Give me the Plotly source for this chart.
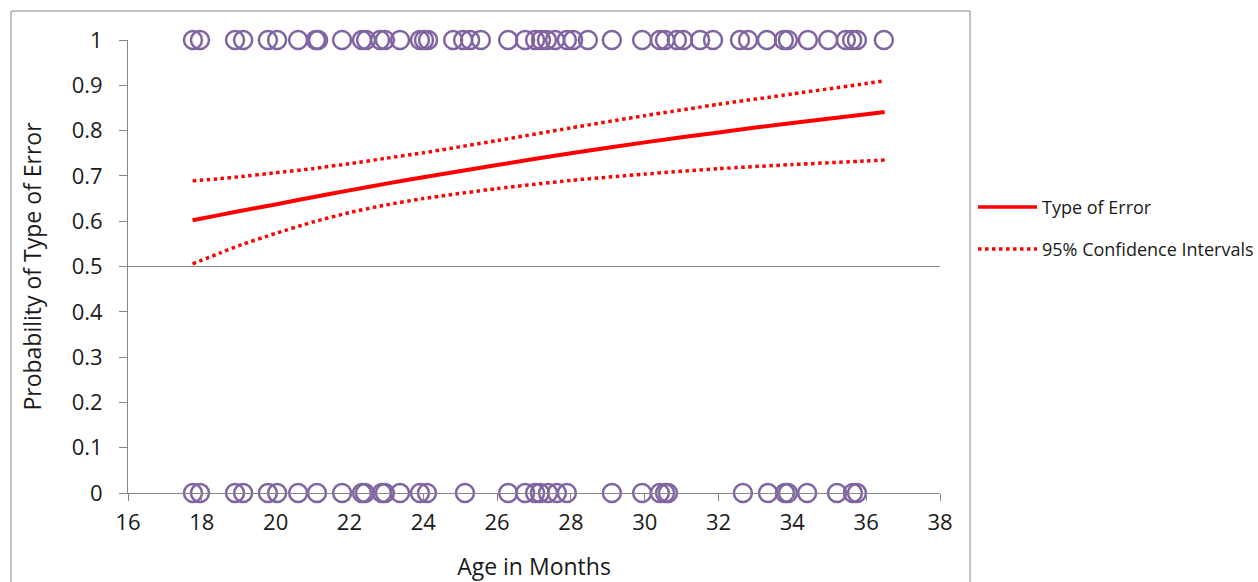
import plotly.graph_objects as go

# Observed outcomes: age (months) of each child by error type (1 / 0)
age_error_1 = [17.76, 17.95, 18.90, 19.12, 19.79, 20.04, 20.61, 21.09, 21.15, 21.80,
               22.34, 22.45, 22.83, 22.96, 23.37, 23.91, 24.02, 24.13, 24.81, 25.08,
               25.27, 25.56, 26.30, 26.76, 27.03, 27.19, 27.35, 27.57, 27.89, 28.06,
               28.46, 29.11, 29.93, 30.41, 30.55, 30.87, 31.04, 31.50, 31.85, 32.58,
               32.80, 33.31, 33.77, 33.88, 34.42, 34.97, 35.45, 35.62, 35.75, 36.48]
age_error_0 = [17.76, 17.95, 18.90, 19.12, 19.79, 20.04, 20.61, 21.12, 21.80, 22.34,
               22.42, 22.88, 22.96, 23.37, 23.91, 24.10, 25.13, 26.30, 26.76, 27.03,
               27.16, 27.38, 27.62, 27.89, 29.11, 29.93, 30.41, 30.55, 30.63, 32.66,
               33.34, 33.80, 33.88, 34.40, 35.21, 35.64, 35.75]

# Fitted probability curve with its 95% confidence band
curve_age = [17.75, 18.5, 19, 20, 21, 22, 23, 24, 26, 28, 30, 32, 34, 36, 36.5]
curve_prob = [0.602, 0.614, 0.622, 0.637, 0.653, 0.668, 0.683, 0.697, 0.724, 0.750,
              0.774, 0.796, 0.817, 0.836, 0.841]
ci_upper = [0.689, 0.694, 0.698, 0.707, 0.716, 0.727, 0.739, 0.751, 0.778, 0.806,
            0.833, 0.858, 0.881, 0.904, 0.910]
ci_lower = [0.506, 0.530, 0.546, 0.573, 0.598, 0.619, 0.636, 0.650, 0.672, 0.690,
            0.704, 0.716, 0.725, 0.733, 0.735]

x_ticks = [16, 18, 20, 22, 24, 26, 28, 30, 32, 34, 36, 38]
y_ticks = [0, 0.1, 0.2, 0.3, 0.4, 0.5, 0.6, 0.7, 0.8, 0.9, 1]
y_tick_text = ["0", "0.1", "0.2", "0.3", "0.4", "0.5", "0.6", "0.7", "0.8", "0.9", "1"]

FONT = "Open Sans"
PURPLE = "#8064A2"
RED = "#FF0000"
AXIS_GRAY = "#868686"
TEXT = "#1a1a1a"

fig = go.Figure()

marker_style = dict(symbol="circle-open", size=18, color=PURPLE, line=dict(width=2.5, color=PURPLE))
fig.add_trace(go.Scatter(x=age_error_1, y=[1] * len(age_error_1), mode="markers",
                         marker=marker_style, cliponaxis=False, showlegend=False))
fig.add_trace(go.Scatter(x=age_error_0, y=[0] * len(age_error_0), mode="markers",
                         marker=marker_style, cliponaxis=False, showlegend=False))

fig.add_trace(go.Scatter(x=curve_age, y=ci_upper, mode="lines",
                         line=dict(color=RED, width=3.5, dash="dot", shape="spline", smoothing=0.6),
                         showlegend=False))
fig.add_trace(go.Scatter(x=curve_age, y=ci_lower, mode="lines",
                         line=dict(color=RED, width=3.5, dash="dot", shape="spline", smoothing=0.6),
                         showlegend=False))
fig.add_trace(go.Scatter(x=curve_age, y=curve_prob, mode="lines",
                         line=dict(color=RED, width=4, shape="spline", smoothing=0.6),
                         showlegend=False))

# Reference line at p = 0.5
fig.add_shape(type="line", xref="x", yref="y", x0=16, x1=38.15, y0=0.5, y1=0.5,
              line=dict(color=AXIS_GRAY, width=1), layer="below")

# Outer chart frame
fig.add_shape(type="rect", xref="paper", yref="paper",
              x0=(11 - 128) / 812, x1=(970 - 128) / 812,
              y0=(493 - 600) / 453, y1=(493 - 11) / 453,
              line=dict(color=AXIS_GRAY, width=1), fillcolor="rgba(0,0,0,0)", layer="below")

# Legend drawn to the right of the frame
def px_x(p):
    return (p - 128) / 812

def px_y(p):
    return (493 - p) / 453

fig.add_shape(type="line", xref="paper", yref="paper",
              x0=px_x(978), x1=px_x(1037), y0=px_y(207), y1=px_y(207),
              line=dict(color=RED, width=3.5))
fig.add_shape(type="line", xref="paper", yref="paper",
              x0=px_x(978), x1=px_x(1037), y0=px_y(249), y1=px_y(249),
              line=dict(color=RED, width=3.5, dash="dot"))
fig.add_annotation(xref="paper", yref="paper", x=px_x(1040), y=px_y(207),
                   text="Type of Error", showarrow=False, xanchor="left", yanchor="middle",
                   font=dict(family=FONT, size=18, color=TEXT))
fig.add_annotation(xref="paper", yref="paper", x=px_x(1040), y=px_y(249),
                   text="95% Confidence Intervals", showarrow=False, xanchor="left", yanchor="middle",
                   font=dict(family=FONT, size=18, color=TEXT))

fig.update_xaxes(range=[16, 38], tickmode="array", tickvals=x_ticks, automargin=False,
                 showgrid=False, zeroline=False, showline=True, linecolor=AXIS_GRAY, linewidth=1,
                 ticks="outside", ticklen=7, tickcolor=AXIS_GRAY, ticklabelstandoff=3,
                 tickfont=dict(family=FONT, size=22, color=TEXT),
                 title=dict(text="Age in Months", font=dict(family=FONT, size=23, color=TEXT),
                            standoff=25))
fig.update_yaxes(range=[0, 1], tickmode="array", tickvals=y_ticks, ticktext=y_tick_text,
                 automargin=False,
                 showgrid=False, zeroline=False, showline=True, linecolor=AXIS_GRAY, linewidth=1,
                 ticks="outside", ticklen=8, tickcolor=AXIS_GRAY, ticklabelstandoff=12,
                 tickfont=dict(family=FONT, size=22, color=TEXT),
                 title=dict(text="Probability of Type of Error",
                            font=dict(family=FONT, size=23, color=TEXT), standoff=23))

fig.update_layout(width=1258, height=582,
                  margin=dict(l=128, r=318, t=40, b=89, autoexpand=False),
                  paper_bgcolor="white", plot_bgcolor="white",
                  showlegend=False)

fig.write_html("out.html")
